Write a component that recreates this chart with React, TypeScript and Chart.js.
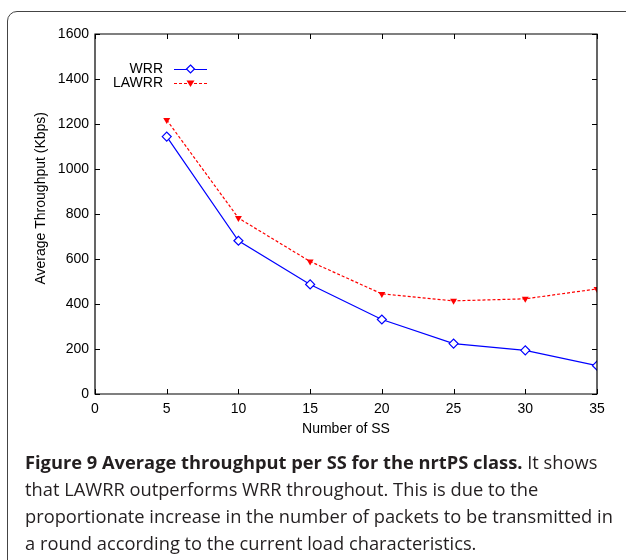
import React, { useEffect, useRef } from "react";
import { Chart, registerables } from "chart.js";

Chart.register(...registerables);

const ssCounts = [5, 10, 15, 20, 25, 30, 35];
const wrrValues = [1144, 681, 487, 331, 224, 194, 126];
const lawrrValues = [1218, 782, 589, 445, 414, 423, 467];
const xTicks = [0, 5, 10, 15, 20, 25, 30, 35];
const yTicks = [0, 200, 400, 600, 800, 1000, 1200, 1400, 1600];
const seriesNames = ["WRR", "LAWRR"];
const yTitle = "Average Throughput (Kbps)";
const xTitle = "Number of SS";

const captionLines: React.ReactNode[] = [
  <>
    <b>Figure 9 Average throughput per SS for the nrtPS class.</b> It shows
  </>,
  <>that LAWRR outperforms WRR throughout. This is due to the</>,
  <>proportionate increase in the number of packets to be transmitted in</>,
  <>a round according to the current load characteristics.</>,
];

const FONT = "'Liberation Sans', Arial, Helvetica, sans-serif";

const framePlugin = {
  id: "gnuplotFrame",
  afterDatasetsDraw(chart: any) {
    const { ctx, chartArea } = chart;
    const { left, right, top, bottom } = chartArea;
    const xs = chart.scales.x;
    const ys = chart.scales.y;
    ctx.save();
    ctx.strokeStyle = "#000";
    ctx.lineWidth = 1.2;
    ctx.beginPath();
    ctx.rect(left, top, right - left, bottom - top);
    ctx.stroke();
    ctx.lineWidth = 1;
    const tl = 5;
    ctx.beginPath();
    xTicks.forEach((v) => {
      const px = Math.round(xs.getPixelForValue(v)) + 0.5;
      ctx.moveTo(px, bottom);
      ctx.lineTo(px, bottom - tl);
      ctx.moveTo(px, top);
      ctx.lineTo(px, top + tl);
    });
    yTicks.forEach((v) => {
      const py = Math.round(ys.getPixelForValue(v)) + 0.5;
      ctx.moveTo(left, py);
      ctx.lineTo(left + tl, py);
      ctx.moveTo(right, py);
      ctx.lineTo(right - tl, py);
    });
    ctx.stroke();

    // y-axis title (gnuplot places it slightly above centre)
    ctx.save();
    ctx.font = `14px ${FONT}`;
    ctx.fillStyle = "#000";
    ctx.textAlign = "center";
    ctx.textBaseline = "middle";
    ctx.translate(41, ys.getPixelForValue(870));
    ctx.rotate(-Math.PI / 2);
    ctx.fillText(yTitle, 0, 0);
    ctx.restore();

    // legend (gnuplot style)
    const textRight = left + 68;
    const lineStart = left + 79;
    const lineEnd = left + 112;
    const mid = (lineStart + lineEnd) / 2;
    const rows = [top + 35, top + 49];
    ctx.font = `14px ${FONT}`;
    ctx.textAlign = "right";
    ctx.textBaseline = "middle";
    chart.data.datasets.forEach((ds: any, i: number) => {
      const y = rows[i];
      ctx.fillStyle = "#000";
      ctx.fillText(seriesNames[i], textRight, y);
      ctx.strokeStyle = ds.borderColor;
      ctx.lineWidth = 1.2;
      ctx.setLineDash(ds.borderDash || []);
      ctx.beginPath();
      ctx.moveTo(lineStart, y + 0.5);
      ctx.lineTo(lineEnd, y + 0.5);
      ctx.stroke();
      ctx.setLineDash([]);
      if (i === 0) {
        ctx.fillStyle = "#fff";
        ctx.beginPath();
        ctx.moveTo(mid, y - 4);
        ctx.lineTo(mid + 4, y);
        ctx.lineTo(mid, y + 4);
        ctx.lineTo(mid - 4, y);
        ctx.closePath();
        ctx.fill();
        ctx.stroke();
      } else {
        ctx.fillStyle = ds.borderColor;
        ctx.beginPath();
        ctx.moveTo(mid - 4, y - 2.5);
        ctx.lineTo(mid + 4, y - 2.5);
        ctx.lineTo(mid, y + 4);
        ctx.closePath();
        ctx.fill();
      }
    });
    ctx.restore();
  },
};

export default function App() {
  const ref = useRef<HTMLCanvasElement | null>(null);

  useEffect(() => {
    if (!ref.current) return;
    const chart = new Chart(ref.current, {
      type: "line",
      data: {
        datasets: [
          {
            label: seriesNames[0],
            data: ssCounts.map((x, i) => ({ x, y: wrrValues[i] })),
            borderColor: "#0000ff",
            backgroundColor: "#ffffff",
            borderWidth: 1.2,
            pointStyle: "rectRot",
            pointRadius: 4.5,
            pointBorderWidth: 1.2,
            pointBorderColor: "#0000ff",
            pointBackgroundColor: "#ffffff",
            tension: 0,
          },
          {
            label: seriesNames[1],
            data: ssCounts.map((x, i) => ({ x, y: lawrrValues[i] })),
            borderColor: "#ff0000",
            backgroundColor: "#ff0000",
            borderWidth: 1.2,
            borderDash: [3, 2],
            pointStyle: "triangle",
            rotation: 180,
            pointRadius: 4,
            pointBorderWidth: 0,
            pointBackgroundColor: "#ff0000",
            tension: 0,
          },
        ],
      },
      options: {
        animation: false,
        responsive: false,
        maintainAspectRatio: false,
        layout: { padding: { left: 29, top: 34, right: 29, bottom: 8 } },
        plugins: { legend: { display: false }, tooltip: { enabled: false } },
        scales: {
          x: {
            type: "linear",
            min: 0,
            max: 35,
            grid: { display: false, drawTicks: false },
            border: { display: false },
            ticks: {
              stepSize: 5,
              padding: 7,
              color: "#000",
              font: { family: FONT, size: 14 },
              maxRotation: 0,
              callback: (v: any) => String(v),
            },
            title: {
              display: true,
              text: xTitle,
              color: "#000",
              font: { family: FONT, size: 14 },
            },
            afterFit: (s: any) => {
              s.height = 48;
            },
          },
          y: {
            type: "linear",
            min: 0,
            max: 1600,
            grid: { display: false, drawTicks: false },
            border: { display: false },
            ticks: {
              stepSize: 200,
              padding: 6,
              color: "#000",
              font: { family: FONT, size: 14 },
              callback: (v: any) => String(v),
            },
            title: { display: false, text: yTitle },
            afterFit: (s: any) => {
              s.width = 66;
            },
          },
        },
      },
      plugins: [framePlugin],
    });
    return () => chart.destroy();
  }, []);

  return (
    <div style={{ position: "absolute", left: 0, top: 0, width: 626, height: 560, overflow: "hidden", background: "#fff" }}>
      <div
        style={{
          position: "absolute",
          left: 7,
          top: 11,
          width: 700,
          height: 700,
          border: "1.5px solid #444",
          borderRadius: 10,
          boxSizing: "border-box",
        }}
      />
      <canvas ref={ref} width={626} height={450} style={{ position: "absolute", left: 0, top: 0, width: 626, height: 450 }} />
      <div
        style={{
          position: "absolute",
          left: 25,
          top: 448,
          fontFamily: "'Open Sans', sans-serif",
          fontSize: 18.3,
          lineHeight: "27px",
          letterSpacing: "0px",
          color: "#231f20",
          whiteSpace: "nowrap",
        }}
      >
        {captionLines.map((l, i) => (
          <div key={i}>{l}</div>
        ))}
      </div>
    </div>
  );
}
